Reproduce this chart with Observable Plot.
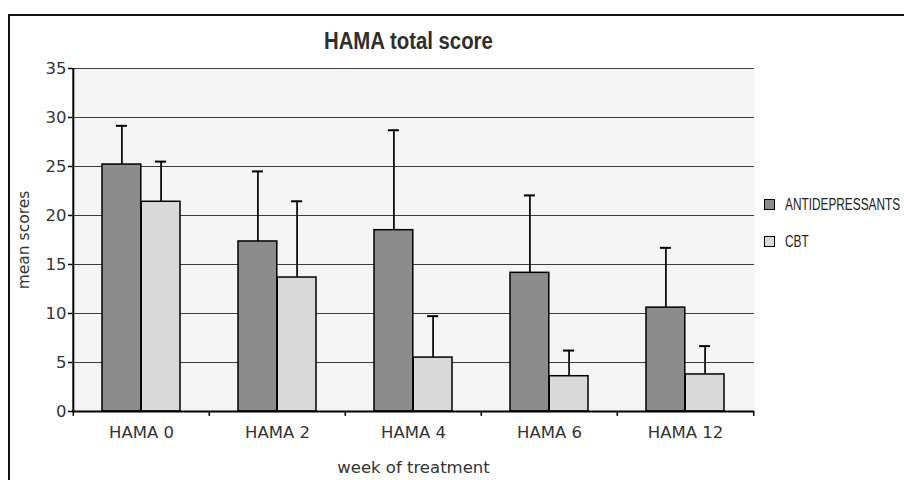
<!DOCTYPE html>
<html>
<head>
<meta charset="utf-8">
<script src="https://cdn.jsdelivr.net/npm/d3@7"></script>
<script src="https://cdn.jsdelivr.net/npm/@observablehq/plot@0.6"></script>
<style>
  html, body { margin: 0; padding: 0; background: #fff; overflow: hidden; }
  #wrap { position: relative; width: 904px; height: 480px; overflow: hidden; }
  #border { position: absolute; left: 8px; top: 14px; width: 2000px; height: 2000px; border: 2px solid #111; box-sizing: border-box; }
  #chart { position: absolute; left: 0; top: 0; }
  #title { position: absolute; left: 0; top: 30px; width: 816px; text-align: center; font-family: "Liberation Sans", Arial, sans-serif; font-weight: bold; font-size: 23px; line-height: 23px; color: #2e2e2e; white-space: nowrap; }
  #title span { display: inline-block; transform: scaleX(0.885); transform-origin: center center; }
  #legend { position: absolute; left: 764px; top: 195.5px; font-family: "Liberation Sans", Arial, sans-serif; font-size: 16px; color: #222; white-space: nowrap; }
  .item { display: flex; align-items: center; height: 18px; margin-bottom: 19px; }
  .sw { width: 9px; height: 9px; border: 1.5px solid #000; margin-right: 10px; flex: none; }
  .item span { display: inline-block; transform: scaleX(0.74); transform-origin: left center; }
</style>
</head>
<body>
<div id="wrap">
  <div id="border"></div>
  <div id="chart"></div>
  <div id="title"><span>HAMA total score</span></div>
  <div id="legend"></div>
</div>
<script>
const categories = ["HAMA 0", "HAMA 2", "HAMA 4", "HAMA 6", "HAMA 12"];
const seriesNames = ["ANTIDEPRESSANTS", "CBT"];
const seriesColors = ["#8c8c8c", "#d9d9d9"];
const antidepressantsMean = [25.2, 17.35, 18.5, 14.15, 10.6];
const antidepressantsSD = [3.95, 7.15, 10.2, 7.9, 6.1];
const cbtMean = [21.4, 13.67, 5.5, 3.6, 3.78];
const cbtSD = [4.1, 7.78, 4.23, 2.62, 2.89];
const yTicks = [0, 5, 10, 15, 20, 25, 30, 35];

const rows = [];
categories.forEach((c, i) => {
  rows.push({week: c, series: seriesNames[0], mean: antidepressantsMean[i], sd: antidepressantsSD[i]});
  rows.push({week: c, series: seriesNames[1], mean: cbtMean[i], sd: cbtSD[i]});
});
const A = rows.filter(d => d.series === seriesNames[0]);
const C = rows.filter(d => d.series === seriesNames[1]);

const W = 904, H = 480, mL = 72, mR = 150, mT = 68, mB = 69;
const bw = (W - mL - mR) / categories.length;  // band width
const half = bw / 2;
const barW = 39.2;
const lead = half - barW;
const capW = 11.4;

const chart = Plot.plot({
  width: W, height: H,
  marginLeft: mL, marginRight: mR, marginTop: mT, marginBottom: mB,
  style: {fontFamily: "DejaVu Sans", fontSize: "16.5px", color: "#333", background: "transparent", overflow: "visible"},
  x: {type: "band", domain: categories, padding: 0, axis: null},
  y: {domain: [0, 35], axis: null},
  marks: [
    Plot.frame({fill: "#f5f5f5", stroke: "none"}),
    Plot.gridY(yTicks.filter(v => v > 0), {stroke: "#3a3a3a", strokeOpacity: 1, strokeWidth: 1}),
    Plot.barY(A, {x: "week", y: "mean", fill: seriesColors[0], stroke: "#000", strokeWidth: 1.5, insetLeft: lead, insetRight: half}),
    Plot.barY(C, {x: "week", y: "mean", fill: seriesColors[1], stroke: "#000", strokeWidth: 1.5, insetLeft: half, insetRight: lead}),
    Plot.ruleX(A, {x: "week", y1: d => d.mean, y2: d => d.mean + d.sd, dx: -barW / 2, stroke: "#000", strokeWidth: 1.7}),
    Plot.ruleX(C, {x: "week", y1: d => d.mean, y2: d => d.mean + d.sd, dx: barW / 2, stroke: "#000", strokeWidth: 1.7}),
    Plot.tickY(A, {x: "week", y: d => d.mean + d.sd, stroke: "#000", strokeWidth: 2,
      insetLeft: half - barW / 2 - capW / 2, insetRight: half + barW / 2 - capW / 2}),
    Plot.tickY(C, {x: "week", y: d => d.mean + d.sd, stroke: "#000", strokeWidth: 2,
      insetLeft: half + barW / 2 - capW / 2, insetRight: half - barW / 2 - capW / 2}),
    Plot.ruleY([0], {stroke: "#000", strokeWidth: 2}),
    Plot.ruleX([categories[0]], {x: d => d, y1: 0, y2: 35, dx: -half, stroke: "#000", strokeWidth: 2}),
    Plot.ruleX(categories, {x: d => d, y1: 0, y2: -0.5, dx: -half, stroke: "#000", strokeWidth: 1.5}),
    Plot.ruleX([categories[categories.length - 1]], {x: d => d, y1: 0, y2: -0.5, dx: half, stroke: "#000", strokeWidth: 1.5}),
    Plot.axisY(yTicks, {tickSize: 4, tickPadding: 2, stroke: "#000", strokeWidth: 1.5, fill: "#333", label: null}),
    Plot.axisX({tickSize: 0, tickPadding: 15, fill: "#333", label: null}),
    Plot.text(["week of treatment"], {frameAnchor: "bottom", dy: 56, fill: "#333", fontSize: 16.5, lineAnchor: "middle"}),
    Plot.text(["mean scores"], {frameAnchor: "left", textAnchor: "middle", rotate: -90, dx: -48, fill: "#333", fontSize: 15.5})
  ]
});
document.getElementById("chart").appendChild(chart);

const legend = document.getElementById("legend");
seriesNames.forEach((s, i) => {
  const item = document.createElement("div");
  item.className = "item";
  const sw = document.createElement("div");
  sw.className = "sw";
  sw.style.background = seriesColors[i];
  const t = document.createElement("span");
  t.textContent = s;
  item.appendChild(sw);
  item.appendChild(t);
  legend.appendChild(item);
});
</script>
</body>
</html>
